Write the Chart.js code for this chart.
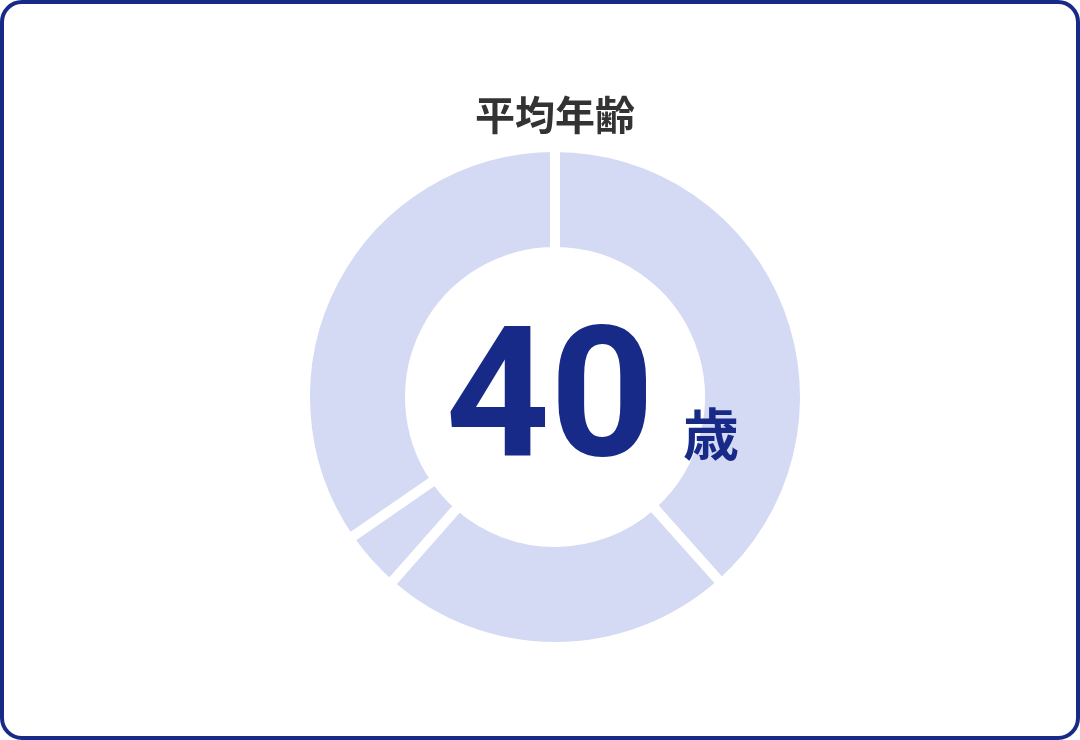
<!DOCTYPE html>
<html lang="ja">
<head>
<meta charset="utf-8">
<title>平均年齢</title>
<script src="https://cdn.jsdelivr.net/npm/chart.js@4"></script>
<style>
  html, body { margin: 0; padding: 0; background: #fff; }
  .card {
    position: relative;
    width: 1080px;
    height: 740px;
    box-sizing: border-box;
    border: 4px solid #182a87;
    border-radius: 22px;
    background: #fff;
    overflow: hidden;
  }
  #ageChart { position: absolute; left: -4px; top: -4px; }
</style>
</head>
<body>
<div class="card">
  <canvas id="ageChart" width="1080" height="740"></canvas>
</div>
<script>
// age groups (share of staff, %)
const groups = ["区分A", "区分B", "区分C", "区分D"];
const shares = [38.4, 23.1, 3.9, 34.6];
const averageAge = "40";
const ageUnit = "歳";
const chartTitle = "平均年齢";

const navy = "#182a87";

// big number in the middle of the ring
const centerLabel = {
    id: "centerLabel",
    afterDraw(chart) {
        const ctx = chart.ctx;
        const meta = chart.getDatasetMeta(0).data[0];
        const cx = meta.x, cy = meta.y;
        ctx.save();
        ctx.fillStyle = navy;
        ctx.textBaseline = "alphabetic";
        ctx.textAlign = "center";
        ctx.font = "bold 182px Roboto, 'Noto Sans', sans-serif";
        ctx.fillText(averageAge, cx - 5, cy + 58);
        ctx.textAlign = "left";
        ctx.font = "bold 56px 'Noto Sans CJK JP', sans-serif";
        ctx.fillText(ageUnit, cx + 128, cy + 58);
        ctx.restore();
    }
};

new Chart(document.getElementById("ageChart"), {
    type: "doughnut",
    data: {
        labels: groups,
        datasets: [{
            data: shares,
            backgroundColor: "#d4d9f4",
            borderColor: "#ffffff",
            borderWidth: 10,
            hoverOffset: 0
        }]
    },
    options: {
        responsive: false,
        animation: false,
        events: [],
        radius: 250,
        cutout: "58%",
        layout: { padding: { top: 91, bottom: 94, left: 60, right: 30 } },
        plugins: {
            legend: { display: false },
            tooltip: { enabled: false },
            title: {
                display: true,
                text: chartTitle,
                color: "#333333",
                font: { size: 40, weight: "bold", family: "'Noto Sans CJK JP', sans-serif" },
                padding: { top: 0, bottom: 9 }
            }
        }
    },
    plugins: [centerLabel]
});
</script>
</body>
</html>
